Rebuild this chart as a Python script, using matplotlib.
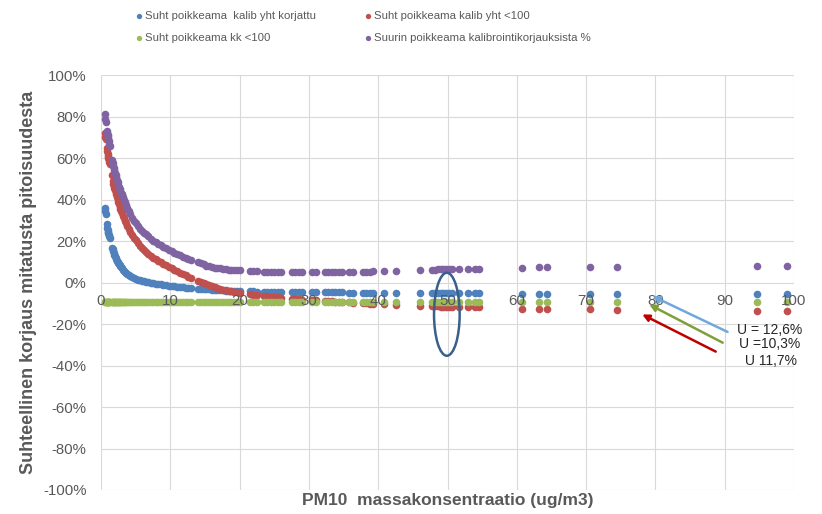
import matplotlib
matplotlib.use("Agg")
import matplotlib.pyplot as plt
from matplotlib.patches import Ellipse
from matplotlib.ticker import FuncFormatter

plt.rcParams['font.family'] = ['Liberation Sans', 'DejaVu Sans']

# PM10 mass concentration (ug/m3)
conc = [
    0.55, 0.6, 0.65, 0.85, 0.9, 0.95, 1.0, 1.06, 1.12, 1.18, 1.25,
    1.6, 1.68, 1.76, 1.84, 1.92, 2.0, 2.1, 2.2, 2.3, 2.4, 2.5, 2.6, 2.7, 2.8, 2.9,
    3.0, 3.15, 3.3, 3.45, 3.6, 3.8, 4.0, 4.25, 4.5, 4.75, 5.0, 5.3, 5.6, 5.9,
    6.2, 6.5, 6.85, 7.2, 7.55, 7.9, 8.25, 8.6, 9.0, 9.4, 9.8, 10.2, 10.6, 11.0,
    11.4, 11.8, 12.2, 12.6, 13.0,
    14.0, 14.4, 14.8, 15.2, 15.6, 16.0, 16.4, 16.8, 17.2, 17.6, 18.0, 18.4, 18.8, 19.2, 19.6, 20.0,
    21.5, 22.0, 22.5, 23.5, 24.0, 24.5, 25.0, 25.5, 26.0, 27.5, 28.0, 28.5, 29.0, 30.5, 31.0,
    32.3, 32.8, 33.3, 33.8, 34.3, 34.8, 35.8, 36.3, 37.8, 38.3, 38.8, 39.3, 40.8, 42.5,
    46.0, 47.8, 48.2, 48.6, 49.0, 49.4, 49.8, 50.2, 50.6, 51.6, 52.9, 53.9, 54.6,
    60.8, 63.2, 64.3, 70.5, 74.5, 94.7, 99.0,
]

# Relative deviation, corrected calibration
dev_corrected = [
    0.36, 0.345, 0.33, 0.28, 0.265, 0.255, 0.245, 0.238, 0.23, 0.222, 0.214,
    0.168, 0.16, 0.15, 0.142, 0.135, 0.128, 0.12, 0.112, 0.106, 0.10, 0.094, 0.088, 0.083, 0.078, 0.073,
    0.068, 0.062, 0.056, 0.051, 0.046, 0.041, 0.036, 0.031, 0.026, 0.022, 0.018, 0.014, 0.011, 0.008,
    0.005, 0.003, 0.001, -0.001, -0.003, -0.005, -0.007, -0.009, -0.011, -0.013, -0.015, -0.017, -0.019, -0.021,
    -0.022, -0.024, -0.025, -0.026, -0.027,
    -0.029, -0.03, -0.031, -0.032, -0.033, -0.034, -0.035, -0.036, -0.037, -0.038, -0.039, -0.039, -0.04, -0.041, -0.041, -0.042,
    -0.043, -0.043, -0.044, -0.044, -0.045, -0.045, -0.045, -0.046, -0.046, -0.046, -0.046, -0.047, -0.047, -0.047, -0.047,
    -0.048, -0.048, -0.048, -0.048, -0.048, -0.048, -0.049, -0.049, -0.049, -0.049, -0.049, -0.049, -0.05, -0.05,
    -0.05, -0.05, -0.05, -0.05, -0.05, -0.05, -0.05, -0.05, -0.051, -0.051, -0.051, -0.051, -0.051,
    -0.053, -0.053, -0.053, -0.054, -0.054, -0.055, -0.055,
]

# Relative deviation, total calibration (< 100)
dev_total = [
    0.72, 0.70, 0.69, 0.65, 0.635, 0.62, 0.61, 0.60, 0.59, 0.58, 0.57,
    0.52, 0.49, 0.475, 0.465, 0.455, 0.445, 0.435, 0.425, 0.41, 0.40, 0.39, 0.378, 0.365, 0.355, 0.345,
    0.335, 0.322, 0.31, 0.298, 0.287, 0.272, 0.258, 0.243, 0.229, 0.216, 0.204, 0.19, 0.177, 0.166,
    0.156, 0.147, 0.137, 0.128, 0.12, 0.112, 0.105, 0.098, 0.09, 0.083, 0.076, 0.069, 0.062, 0.055,
    0.048, 0.041, 0.034, 0.027, 0.02,
    0.008, 0.003, -0.002, -0.008, -0.013, -0.018, -0.022, -0.026, -0.03, -0.034, -0.037, -0.04, -0.043, -0.046, -0.048, -0.05,
    -0.056, -0.058, -0.06, -0.064, -0.066, -0.068, -0.07, -0.072, -0.074, -0.078, -0.08, -0.081, -0.082, -0.085, -0.086,
    -0.089, -0.09, -0.091, -0.092, -0.093, -0.094, -0.096, -0.097, -0.1, -0.101, -0.102, -0.103, -0.105, -0.108,
    -0.113, -0.115, -0.115, -0.115, -0.116, -0.116, -0.116, -0.117, -0.117, -0.117, -0.118, -0.118, -0.119,
    -0.127, -0.128, -0.128, -0.13, -0.132, -0.135, -0.135,
]

# Relative deviation, monthly calibration (< 100)
dev_monthly = [
    -0.093, -0.093, -0.093, -0.093, -0.093, -0.093, -0.093, -0.093, -0.093, -0.093, -0.093,
    -0.093, -0.093, -0.093, -0.093, -0.093, -0.093, -0.093, -0.093, -0.093, -0.093, -0.093, -0.093, -0.093, -0.093, -0.093,
    -0.093, -0.093, -0.093, -0.093, -0.093, -0.093, -0.093, -0.093, -0.093, -0.093, -0.093, -0.093, -0.093, -0.093,
    -0.093, -0.093, -0.093, -0.093, -0.093, -0.093, -0.093, -0.093, -0.093, -0.093, -0.093, -0.093, -0.093, -0.093,
    -0.093, -0.093, -0.093, -0.093, -0.093,
    -0.093, -0.093, -0.093, -0.093, -0.093, -0.093, -0.093, -0.093, -0.093, -0.093, -0.093, -0.093, -0.093, -0.093, -0.093, -0.093,
    -0.093, -0.093, -0.093, -0.093, -0.093, -0.093, -0.093, -0.093, -0.093, -0.093, -0.093, -0.093, -0.093, -0.094, -0.094,
    -0.094, -0.094, -0.094, -0.094, -0.094, -0.094, -0.094, -0.094, -0.094, -0.094, -0.094, -0.094, -0.094, -0.094,
    -0.095, -0.095, -0.095, -0.095, -0.095, -0.095, -0.095, -0.095, -0.095, -0.095, -0.095, -0.095, -0.095,
    -0.095, -0.095, -0.095, -0.095, -0.095, -0.095, -0.095,
]

# Largest deviation of the calibration corrections
dev_max = [
    0.81, 0.79, 0.775, 0.73, 0.72, 0.71, 0.70, 0.69, 0.68, 0.67, 0.66,
    0.59, 0.575, 0.56, 0.55, 0.54, 0.53, 0.52, 0.507, 0.495, 0.485, 0.472, 0.46, 0.45, 0.44, 0.432,
    0.425, 0.41, 0.398, 0.386, 0.375, 0.36, 0.345, 0.328, 0.312, 0.298, 0.285, 0.272, 0.26, 0.25,
    0.24, 0.232, 0.222, 0.212, 0.202, 0.193, 0.186, 0.179, 0.172, 0.165, 0.158, 0.151, 0.144, 0.137,
    0.131, 0.125, 0.119, 0.113, 0.108,
    0.097, 0.092, 0.087, 0.082, 0.078, 0.075, 0.072, 0.07, 0.068, 0.066, 0.064, 0.062, 0.061, 0.06, 0.059, 0.058,
    0.055, 0.054, 0.054, 0.053, 0.052, 0.052, 0.052, 0.051, 0.051, 0.051, 0.051, 0.05, 0.05, 0.05, 0.05,
    0.05, 0.05, 0.051, 0.051, 0.051, 0.052, 0.052, 0.052, 0.053, 0.053, 0.053, 0.054, 0.055, 0.056,
    0.061, 0.062, 0.062, 0.063, 0.063, 0.063, 0.063, 0.063, 0.063, 0.063, 0.064, 0.064, 0.065,
    0.071, 0.074, 0.076, 0.076, 0.077, 0.082, 0.082,
]

series_labels = [
    "Suht poikkeama  kalib yht korjattu",
    "Suht poikkeama kalib yht <100",
    "Suht poikkeama kk <100",
    "Suurin poikkeama kalibrointikorjauksista %",
]
series_colors = ["#4F81BD", "#C0504D", "#9BBB59", "#8064A2"]

x_ticks = [0, 10, 20, 30, 40, 50, 60, 70, 80, 90, 100]
y_ticks = [-1.0, -0.8, -0.6, -0.4, -0.2, 0.0, 0.2, 0.4, 0.6, 0.8, 1.0]

# Expanded uncertainty annotations
u_labels = ["U = 12,6%", "U =10,3%", " U 11,7%"]
u_colors = ["#6FA8DC", "#7F9F3A", "#C00000"]

text_gray = "#595959"
grid_gray = "#D9D9D9"

fig = plt.figure(figsize=(8.22, 5.14), dpi=100)
ax = fig.add_axes([0.1229, 0.0467, 0.8431, 0.8073])

ax.set_xlim(0, 100)
ax.set_ylim(-1, 1)

for v in x_ticks:
    ax.axvline(v, color=grid_gray, lw=0.8, zorder=0)
for v in y_ticks:
    ax.axhline(v, color=grid_gray, lw=0.8, zorder=0)

all_series = [dev_corrected, dev_total, dev_monthly, dev_max]
handles = []
for vals, col, lab in zip(all_series, series_colors, series_labels):
    h = ax.scatter(conc, vals, s=30, color=col, linewidths=0, label=lab, zorder=1)
    handles.append(h)

ax.set_xticks(x_ticks)
ax.set_yticks(y_ticks)
ax.yaxis.set_major_formatter(FuncFormatter(lambda v, p: f"{v * 100:.0f}%"))
ax.tick_params(axis='both', length=0, labelsize=10.8, labelcolor=text_gray)
ax.tick_params(axis='y', pad=10.5)
ax.tick_params(axis='x', pad=8.5)

for side in ['top', 'right', 'left']:
    ax.spines[side].set_visible(False)
ax.spines['bottom'].set_position(('data', 0))
ax.spines['bottom'].set_color('none')

ax.set_ylabel("Suhteellinen korjaus mitatusta pitoisuudesta", fontsize=13,
              fontweight='bold', color=text_gray)
ax.yaxis.set_label_coords(-0.092, 0.5)
ax.text(0.5, -0.025, "PM10  massakonsentraatio (ug/m3)", transform=ax.transAxes,
        ha='center', va='center', fontsize=12.5, fontweight='bold', color=text_gray)

# Highlight around 50 ug/m3
ax.add_patch(Ellipse((49.9, -0.153), 3.7, 0.40, fill=False, edgecolor="#3A5F8B",
                     lw=1.8, zorder=3))

# Uncertainty arrows and labels
arrow_tails = [(90.4, -0.238), (89.7, -0.29), (88.7, -0.333)]
arrow_heads = [(79.6, -0.066), (79.1, -0.106), (78.1, -0.154)]
label_pos = [(91.8, -0.227), (92.1, -0.294), (92.4, -0.376)]
for tail, head, col in zip(arrow_tails, arrow_heads, u_colors):
    ax.annotate("", xy=head, xytext=tail,
                arrowprops=dict(arrowstyle='-|>', color=col, lw=1.8,
                                mutation_scale=10, shrinkA=0, shrinkB=0),
                zorder=4)
for (tx, ty), lab in zip(label_pos, u_labels):
    ax.text(tx, ty, lab, fontsize=10, color="#262626", ha='left', va='center',
            zorder=5)

order = [0, 2, 1, 3]
fig.legend([handles[i] for i in order], [series_labels[i] for i in order],
           ncol=2, loc='upper left', bbox_to_anchor=(0.165, 0.978),
           frameon=False, fontsize=8.2, handlelength=0.6, handletextpad=0.25,
           columnspacing=4.2, labelspacing=1.05, borderpad=0, borderaxespad=0,
           markerscale=0.7, labelcolor=text_gray)

fig.savefig("out.png", dpi=100)
